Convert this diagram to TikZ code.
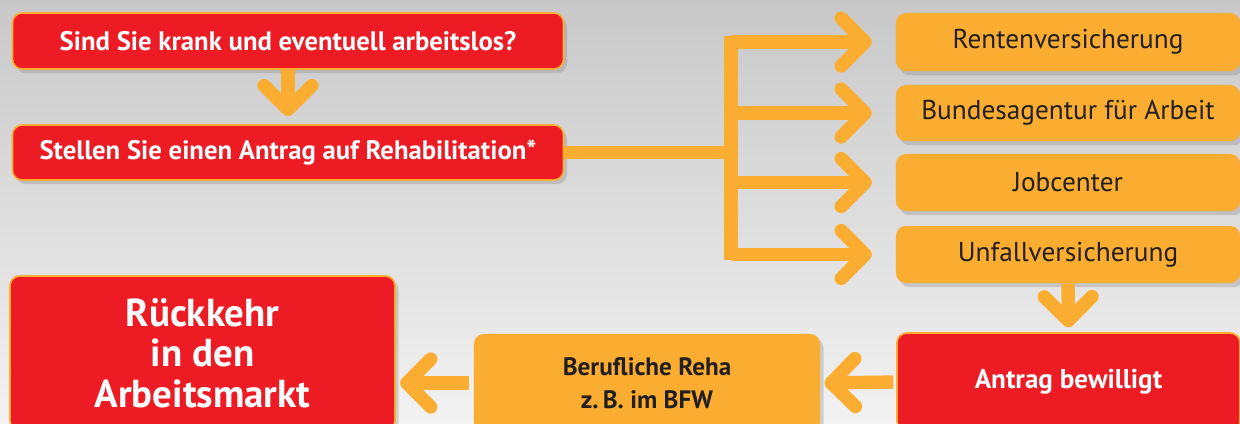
\documentclass[tikz,border=0pt]{standalone}
\usepackage{fontspec}
\setmainfont{PT Sans}
\usetikzlibrary{arrows.meta,shadows}

\definecolor{rehared}{RGB}{237,28,36}
\definecolor{rehaorange}{RGB}{250,173,49}
\definecolor{rehatext}{RGB}{35,31,32}
\definecolor{bgtop}{RGB}{200,200,200}
\definecolor{bgbottom}{RGB}{242,242,242}

\tikzset{
  box/.style={rounded corners=7pt, inner sep=0pt, align=center,
    drop shadow={shadow xshift=2.5pt, shadow yshift=-3pt, opacity=0.3}},
  redbox/.style={box, fill=rehared, draw=rehaorange, line width=1.2pt, text=white,
    font=\bfseries\fontsize{19}{22}\selectfont},
  orangebox/.style={box, fill=rehaorange, text=rehatext,
    font=\fontsize{19.4}{22}\selectfont},
  trunk/.style={draw=rehaorange, line width=9.5pt},
  flow/.style={trunk, -{Straight Barb[length=17pt,width=34pt,round]}},
}

\begin{document}
\begin{tikzpicture}[x=0.025cm, y=-0.025cm]
\useasboundingbox (0,0) rectangle (1240,423);
\clip (0,0) rectangle (1240,423);
\shade[top color=bgtop, bottom color=bgbottom] (0,0) rectangle (1240,423);

% left column
\node[redbox, minimum width=137.75mm, minimum height=14mm] (sind) at (288,41) {Sind Sie krank und eventuell arbeitslos?};
\node[redbox, minimum width=137.75mm, minimum height=13.75mm] (stellen) at (288,152.5) {Stellen Sie einen Antrag auf Rehabilitation*};

% right column
\node[orangebox, minimum width=86mm, minimum height=14.5mm] (rente) at (1068,42) {Rentenversicherung};
\node[orangebox, minimum width=86mm, minimum height=14mm] (bund) at (1068,113) {Bundesagentur für Arbeit};
\node[orangebox, minimum width=86mm, minimum height=14.25mm] (job) at (1068,182.5) {Jobcenter};
\node[orangebox, minimum width=86mm, minimum height=14.25mm] (unfall) at (1068,254.5) {Unfallversicherung};

% bottom row
\node[redbox, minimum width=85.75mm, minimum height=24.5mm, font=\bfseries\fontsize{19.3}{22}\selectfont] (antrag) at (1068.5,382) {Antrag bewilligt};
\node[orangebox, minimum width=86.5mm, minimum height=24.5mm, font=\bfseries\fontsize{17.9}{23.5}\selectfont] (beruf) at (647,383) {Berufliche Reha\\z.\,B. im BFW};
\node[redbox, minimum width=96.25mm, minimum height=38.5mm, font=\bfseries\fontsize{27.7}{29}\selectfont] (rueck) at (202.5,353) {Rückkehr\\in den\\Arbeitsmarkt};

% fork
\coordinate (forktop) at (731,36);
\coordinate (forkbot) at (731,260);
\draw[trunk] (stellen.east) -- (stellen.east -| forktop);
\draw[trunk] (forktop) -- (forkbot);
\foreach \target in {rente,bund,job,unfall}
  \draw[flow, shorten >=17pt] (\target.west -| forktop) -- (\target.west);

% arrows
\draw[flow, shorten >=5.7pt] (sind.south) -- (stellen.north);
\draw[flow, shorten >=3.5pt] (unfall.south) -- (antrag.north);
\draw[flow, shorten <=2pt, shorten >=3pt] (antrag.west) -- (beruf.east);
\draw[flow, shorten <=3.5pt, shorten >=3pt] (beruf.west) -- (beruf.west -| rueck.east);
\end{tikzpicture}
\end{document}
